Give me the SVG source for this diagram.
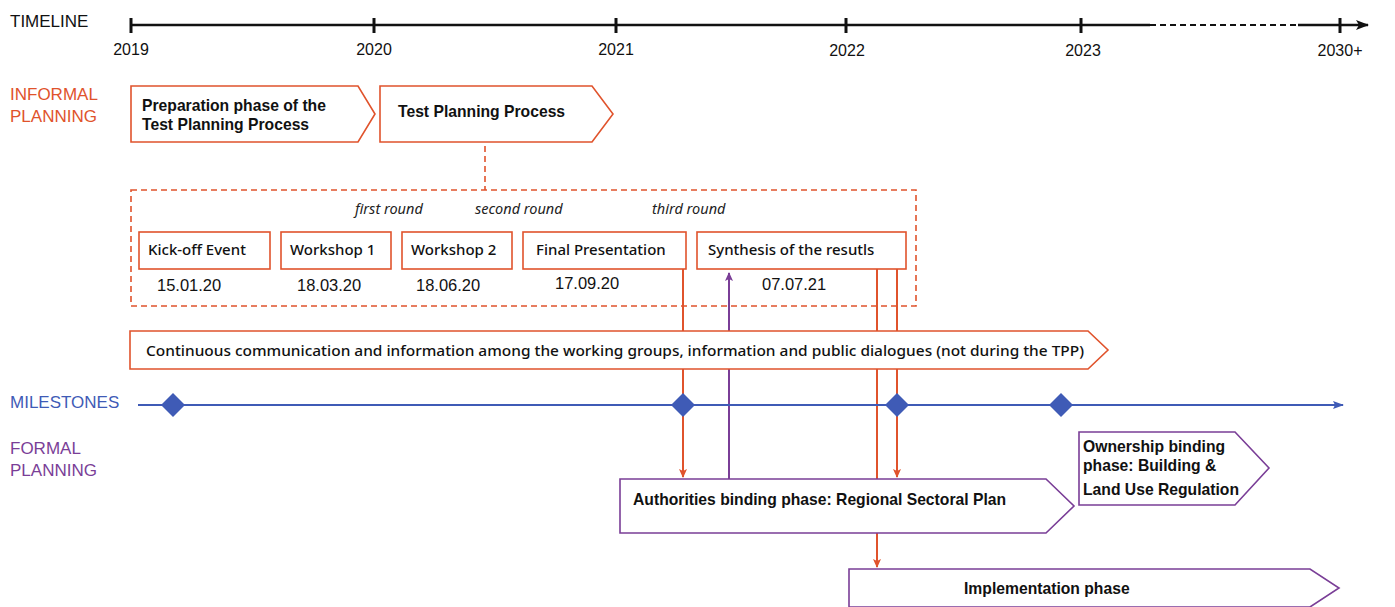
<svg xmlns="http://www.w3.org/2000/svg" width="1395" height="607" viewBox="0 0 1395 607">
<style>
text{font-family:"Liberation Sans",Arial,sans-serif;}
.yr{font-size:16px;fill:#111;text-anchor:middle;}
.lab{font-size:17px;}
.or{fill:#e0532c;}
.pu{fill:#7a3e97;}
.bl{fill:#3f5bb6;}
.boxo{fill:#fff;stroke:#e0532c;stroke-width:1.6;}
.boxp{fill:#fff;stroke:#7a3e97;stroke-width:1.6;}
.bt{font-size:15.7px;font-weight:bold;fill:#111;}
.mt{font-family:"Noto Sans","Liberation Sans",sans-serif;font-size:15px;font-weight:500;fill:#111;}
.dt{font-size:16.5px;fill:#111;}
.it{font-family:"Noto Sans","Liberation Sans",sans-serif;font-size:14.5px;font-style:italic;fill:#222;}
.lo{stroke:#e0532c;stroke-width:2;fill:none;}
.lp{stroke:#7a3e97;stroke-width:2;fill:none;}
</style>
<defs>
<marker id="ao" markerWidth="10" markerHeight="12" refX="8" refY="5" orient="auto" markerUnits="userSpaceOnUse"><path d="M0,1 L9,5 L0,9 L2,5 Z" fill="#e0532c"/></marker>
<marker id="ap" markerWidth="10" markerHeight="12" refX="8" refY="5" orient="auto" markerUnits="userSpaceOnUse"><path d="M0,1 L9,5 L0,9 L2,5 Z" fill="#7a3e97"/></marker>
<marker id="ab" markerWidth="12" markerHeight="12" refX="10" refY="5" orient="auto" markerUnits="userSpaceOnUse"><path d="M0,1 L11,5 L0,9 L2,5 Z" fill="#3f5bb6"/></marker>
<marker id="ak" markerWidth="14" markerHeight="12" refX="12" refY="6" orient="auto" markerUnits="userSpaceOnUse"><path d="M0,1 L13,6 L0,11 L3,6 Z" fill="#111"/></marker>
</defs>

<g id="timeline">
<text x="10" y="27" class="lab" fill="#111">TIMELINE</text>
<line x1="131" y1="25" x2="1150" y2="25" stroke="#111" stroke-width="2.5"/>
<line x1="1150" y1="25" x2="1298" y2="25" stroke="#111" stroke-width="2" stroke-dasharray="6,4"/>
<line x1="1298" y1="25" x2="1368" y2="25" stroke="#111" stroke-width="2.5" marker-end="url(#ak)"/>
<g stroke="#111" stroke-width="3">
<line x1="131" y1="18" x2="131" y2="33"/>
<line x1="374" y1="18" x2="374" y2="33"/>
<line x1="616" y1="18" x2="616" y2="33"/>
<line x1="846" y1="18" x2="846" y2="33"/>
<line x1="1081" y1="18" x2="1081" y2="33"/>
<line x1="1340" y1="18" x2="1340" y2="33"/>
</g>
<text x="131" y="55" class="yr">2019</text>
<text x="374" y="55" class="yr">2020</text>
<text x="616" y="55" class="yr">2021</text>
<text x="847" y="56" class="yr">2022</text>
<text x="1083" y="56" class="yr">2023</text>
<text x="1340" y="56" class="yr">2030+</text>
</g>

<g id="lane-labels">
<text x="10" y="100" class="lab or">INFORMAL</text>
<text x="10" y="122" class="lab or">PLANNING</text>
<text x="10" y="408" class="lab bl">MILESTONES</text>
<text x="10" y="454" class="lab pu">FORMAL</text>
<text x="10" y="476" class="lab pu">PLANNING</text>
</g>

<g id="connectors">
<line x1="485" y1="146" x2="485" y2="190" stroke="#e0532c" stroke-width="1.6" stroke-dasharray="6,4"/>
<line x1="683" y1="269" x2="683" y2="477" class="lo" marker-end="url(#ao)"/>
<line x1="729" y1="479" x2="729" y2="273" class="lp" marker-end="url(#ap)"/>
<line x1="877" y1="269" x2="877" y2="567" class="lo" marker-end="url(#ao)"/>
<line x1="897" y1="269" x2="897" y2="477" class="lo" marker-end="url(#ao)"/>
</g>

<g id="prep">
<path d="M131,86 H358 L375,114 L358,142 H131 Z" class="boxo"/>
<text x="142" y="111" class="bt">Preparation phase of the</text>
<text x="142" y="130" class="bt">Test Planning Process</text>
</g>
<g id="tpp">
<path d="M380,86 H592 L613,114 L592,142 H380 Z" class="boxo"/>
<text x="398" y="117" class="bt">Test Planning Process</text>
</g>

<g id="tpp-detail">
<rect x="131" y="190" width="785" height="116" fill="none" stroke="#e0532c" stroke-width="1.6" stroke-dasharray="6,4"/>
<text x="355" y="214" class="it">first round</text>
<text x="475" y="214" class="it">second round</text>
<text x="652" y="214" class="it">third round</text>
</g>

<g id="kickoff">
<rect x="139" y="232" width="131" height="37" class="boxo"/>
<text x="148" y="255" class="mt">Kick-off Event</text>
<text x="157" y="291" class="dt">15.01.20</text>
</g>
<g id="workshop1">
<rect x="281" y="232" width="110" height="37" class="boxo"/>
<text x="290" y="255" class="mt">Workshop 1</text>
<text x="297" y="291" class="dt">18.03.20</text>
</g>
<g id="workshop2">
<rect x="402" y="232" width="110" height="37" class="boxo"/>
<text x="411" y="255" class="mt">Workshop 2</text>
<text x="416" y="291" class="dt">18.06.20</text>
</g>
<g id="final">
<rect x="523" y="232" width="163" height="37" class="boxo"/>
<text x="536" y="255" class="mt">Final Presentation</text>
<text x="555" y="289" class="dt">17.09.20</text>
</g>
<g id="synthesis">
<rect x="697" y="232" width="209" height="37" class="boxo"/>
<text x="708" y="255" class="mt">Synthesis of the resutls</text>
<text x="762" y="290" class="dt">07.07.21</text>
</g>

<g id="continuous">
<path d="M130,331 H1088 L1108,350 L1088,369 H130 Z" class="boxo"/>
<text x="146" y="356" class="mt" textLength="938" lengthAdjust="spacingAndGlyphs">Continuous communication and information among the working groups, information and public dialogues (not during the TPP)</text>
</g>

<g id="milestones">
<line x1="138" y1="405" x2="1343" y2="405" stroke="#3f5bb6" stroke-width="2" marker-end="url(#ab)"/>
<g fill="#3f5bb6">
<path d="M173,393 L185,405 L173,417 L161,405 Z"/>
<path d="M683,393 L695,405 L683,417 L671,405 Z"/>
<path d="M897,393 L909,405 L897,417 L885,405 Z"/>
<path d="M1061,393 L1073,405 L1061,417 L1049,405 Z"/>
</g>
</g>

<g id="authorities">
<path d="M620,479 H1046 L1074,506 L1046,533 H620 Z" class="boxp"/>
<text x="633" y="505" class="bt">Authorities binding phase: Regional Sectoral Plan</text>
</g>
<g id="ownership">
<path d="M1079,432 H1235 L1269,468 L1235,505 H1079 Z" class="boxp"/>
<text x="1083" y="452" class="bt">Ownership binding</text>
<text x="1083" y="471" class="bt">phase: Building &amp;</text>
<text x="1083" y="495" class="bt">Land Use Regulation</text>
</g>
<g id="implementation">
<path d="M849,569 H1310 L1339,588 L1310,607 H849 Z" class="boxp"/>
<text x="964" y="594" class="bt">Implementation phase</text>
</g>
</svg>
